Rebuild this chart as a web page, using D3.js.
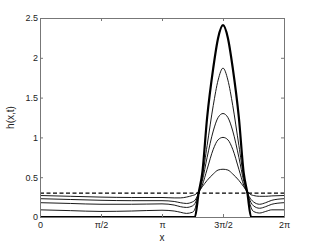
<!DOCTYPE html>
<html>
<head>
<meta charset="utf-8">
<script src="https://cdn.jsdelivr.net/npm/d3@7"></script>
<style>
  body { margin: 0; background: #fff; }
  text { font-family: "Liberation Sans", Arial, sans-serif; }
</style>
</head>
<body>
<svg id="chart" width="314" height="245"></svg>
<script>
// x positions in units of pi
var xs = [0, 0.25, 0.5, 0.75, 1.0, 1.1, 1.15, 1.2, 1.25, 1.27, 1.3, 1.33, 1.37, 1.42, 1.46, 1.5,
          1.54, 1.58, 1.63, 1.67, 1.7, 1.73, 1.75, 1.8, 1.85, 1.9, 2.0];

// thin curves, lowest peak first
var hPeak06 = [0.27, 0.26, 0.25, 0.245, 0.245, 0.24, 0.24, 0.25, 0.27, 0.28, 0.32, 0.38, 0.46, 0.54, 0.59, 0.6,
               0.59, 0.54, 0.46, 0.38, 0.32, 0.28, 0.27, 0.26, 0.26, 0.265, 0.27];
var hPeak10 = [0.23, 0.22, 0.21, 0.205, 0.205, 0.195, 0.18, 0.17, 0.19, 0.21, 0.3, 0.4, 0.6, 0.85, 0.97, 1.0,
               0.97, 0.85, 0.6, 0.4, 0.3, 0.22, 0.19, 0.16, 0.18, 0.21, 0.23];
var hPeak13 = [0.18, 0.17, 0.16, 0.16, 0.165, 0.15, 0.13, 0.12, 0.14, 0.17, 0.3, 0.45, 0.75, 1.08, 1.25, 1.3,
               1.25, 1.08, 0.75, 0.45, 0.3, 0.18, 0.14, 0.11, 0.13, 0.16, 0.18];
var hPeak19 = [0.09, 0.08, 0.07, 0.075, 0.085, 0.075, 0.06, 0.045, 0.06, 0.1, 0.3, 0.5, 0.9, 1.4, 1.72, 1.87,
               1.72, 1.4, 0.9, 0.5, 0.3, 0.12, 0.07, 0.05, 0.07, 0.09, 0.09];
// final state (thick)
var hFinal = [0, 0, 0, 0, 0, 0, 0, 0, 0, 0, 0.3, 0.55, 1.25, 1.87, 2.25, 2.41,
              2.25, 1.87, 1.25, 0.55, 0.3, 0, 0, 0, 0, 0, 0];
// initial state (dashed)
var hInit = 0.3;

var xTicks = [0, 0.5, 1, 1.5, 2];
var xTickLabels = ["0", "\u03c0/2", "\u03c0", "3\u03c0/2", "2\u03c0"];
var yTicks = [0, 0.5, 1, 1.5, 2, 2.5];

var svg = d3.select("#chart");
var margin = { left: 40, right: 30, top: 18, bottom: 28 };
var width = 314 - margin.left - margin.right,
    height = 245 - margin.top - margin.bottom;

var x = d3.scaleLinear().domain([0, 2]).range([0, width]);
var y = d3.scaleLinear().domain([0, 2.5]).range([height, 0]);

var g = svg.append("g")
    .attr("transform", "translate(" + margin.left + "," + margin.top + ")");

var line = d3.line()
    .x((d, i) => x(xs[i]))
    .y(d => y(d))
    .curve(d3.curveMonotoneX);

// dashed initial line
g.append("line")
    .attr("x1", x(0)).attr("x2", x(2))
    .attr("y1", y(hInit)).attr("y2", y(hInit))
    .attr("stroke", "#000")
    .attr("stroke-width", 1.4)
    .attr("stroke-dasharray", "4,2.5");

[hPeak06, hPeak10, hPeak13, hPeak19].forEach(function(s) {
    g.append("path")
        .datum(s)
        .attr("fill", "none")
        .attr("stroke", "#000")
        .attr("stroke-width", 0.9)
        .attr("d", line);
});

g.append("path")
    .datum(hFinal)
    .attr("fill", "none")
    .attr("stroke", "#000")
    .attr("stroke-width", 2.2)
    .attr("d", line);

// axes, MATLAB style box with inward ticks
function styleAxis(sel) {
    sel.select(".domain").attr("stroke", "#777");
    sel.selectAll(".tick line").attr("stroke", "#777");
    sel.selectAll(".tick text").attr("fill", "#222").style("font-size", "9px");
}

g.append("g")
    .attr("transform", "translate(0," + height + ")")
    .call(d3.axisBottom(x).tickValues(xTicks).tickFormat((d, i) => xTickLabels[i])
        .tickSizeInner(-3).tickSizeOuter(0).tickPadding(5))
    .call(styleAxis);

g.append("g")
    .call(d3.axisTop(x).tickValues(xTicks).tickFormat("")
        .tickSizeInner(-3).tickSizeOuter(0))
    .call(styleAxis);

g.append("g")
    .call(d3.axisLeft(y).tickValues(yTicks).tickFormat(d3.format("~g"))
        .tickSizeInner(-3).tickSizeOuter(0).tickPadding(2))
    .call(styleAxis);

g.append("g")
    .attr("transform", "translate(" + width + ",0)")
    .call(d3.axisRight(y).tickValues(yTicks).tickFormat("")
        .tickSizeInner(-3).tickSizeOuter(0))
    .call(styleAxis);

g.append("text")
    .attr("x", width / 2)
    .attr("y", height + 24)
    .attr("text-anchor", "middle")
    .style("font-size", "10px")
    .attr("fill", "#222")
    .text("x");

g.append("text")
    .attr("transform", "translate(" + (-26) + "," + (height / 2) + ") rotate(-90)")
    .attr("text-anchor", "middle")
    .style("font-size", "10px")
    .attr("fill", "#222")
    .text("h(x,t)");
</script>
</body>
</html>
